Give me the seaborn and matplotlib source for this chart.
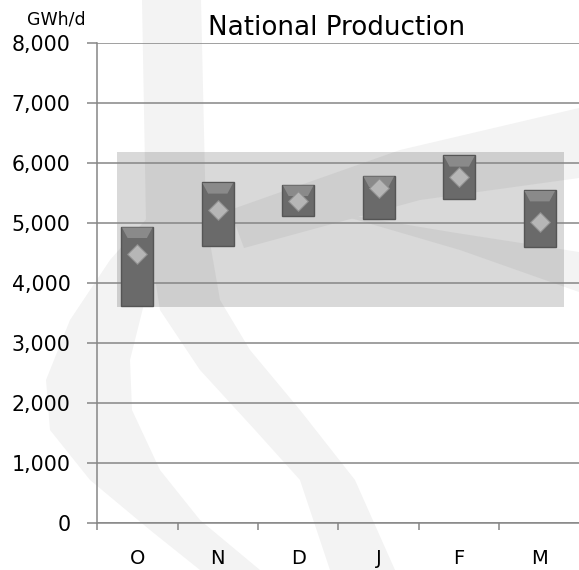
import numpy as np
import pandas as pd
import seaborn as sns
import matplotlib.pyplot as plt
from matplotlib.patches import Polygon
from matplotlib.ticker import FuncFormatter, FixedLocator

# monthly national production, GWh/d
months = ['O', 'N', 'D', 'J', 'F', 'M']
low = [3620, 4620, 5110, 5070, 5400, 4600]
high = [4940, 5680, 5640, 5790, 6130, 5550]
avg = [4480, 5220, 5370, 5590, 5770, 5020]
band_low = 3600
band_high = 6190

df = pd.DataFrame({'month': months, 'low': low, 'high': high, 'avg': avg})
df['span'] = df['high'] - df['low']

sns.set_style('white', {'text.color': 'black', 'xtick.color': 'black', 'ytick.color': 'black',
                        'xtick.bottom': True, 'ytick.left': True})
plt.rcParams['font.family'] = ['DejaVu Sans']

W, H = 579, 570
fig = plt.figure(figsize=(W / 100, H / 100), dpi=100)


def px(points):
    # watermark outline given in pixels from the top left corner
    return [(x / W, 1 - y / H) for x, y in points]


# faint logo watermark behind the chart
wm = '#f3f3f3'
shapes = [
    [(142, 0), (201, 0), (206, 220), (220, 300), (250, 350), (300, 410), (355, 480), (395, 570),
     (330, 570), (300, 480), (255, 430), (200, 370), (160, 310), (146, 220)],
    [(150, 215), (110, 260), (70, 320), (46, 380), (50, 430), (90, 480), (150, 530), (200, 570),
     (260, 570), (200, 520), (160, 470), (132, 410), (130, 360), (145, 300), (165, 260)],
    [(230, 210), (400, 150), (579, 108), (579, 178), (420, 200), (244, 248)],
    [(330, 212), (450, 232), (579, 252), (579, 292), (460, 250)],
]
for s in shapes:
    fig.patches.append(Polygon(px(s), closed=True, transform=fig.transFigure,
                               facecolor=wm, edgecolor='none', zorder=-5))

ax = fig.add_axes([97 / W, 47 / H, 483 / W, 480 / H])
ax.set_zorder(2)
ax.patch.set_alpha(0)

# overall range band
ax.axhspan(band_low, band_high, xmin=0.25 / 6, xmax=5.8 / 6, color='black', alpha=0.15,
           lw=0, zorder=1)

sns.barplot(data=df, x='month', y='span', bottom=df['low'], color='#6a6a6a', saturation=1,
            width=0.4, edgecolor='#555555', linewidth=1.0, zorder=3, ax=ax)

# lighter bevel at the top of each bar
for i, hi in enumerate(high):
    ax.fill([i - 0.19, i + 0.19, i + 0.12, i - 0.12], [hi - 15, hi - 15, hi - 190, hi - 190],
            color='#8a8a8a', lw=0, zorder=4)

sns.scatterplot(data=df, x='month', y='avg', marker='D', s=100, color='#b6b6b6',
                edgecolor='#8e8e8e', linewidth=0.8, zorder=5, ax=ax)

ax.set_xlim(-0.5, 5.5)
ax.set_ylim(0, 8000)
ax.set_yticks(range(0, 8001, 1000))
ax.yaxis.set_major_formatter(FuncFormatter(lambda v, p: f'{v:,.0f}'))
ax.grid(axis='y', color='#868686', lw=1.1, zorder=2)
ax.set_axisbelow(False)

ax.xaxis.set_major_locator(FixedLocator(np.arange(-0.5, 6, 1)))
ax.xaxis.set_minor_locator(FixedLocator(np.arange(0, 6, 1)))
ax.set_xticklabels([])
ax.set_xticklabels(months, minor=True)
ax.tick_params(axis='x', which='major', bottom=True, length=5, width=1.1, color='#868686',
               direction='out')
ax.tick_params(axis='x', which='minor', length=0, labelsize=14, pad=19, labelcolor='black')
ax.tick_params(axis='y', left=True, length=7, width=1.1, color='#868686', direction='out',
               labelsize=14.8, pad=12, labelcolor='black')
ax.set_xlabel('')
ax.set_ylabel('')

for side in ['top', 'right']:
    ax.spines[side].set_visible(False)
for side in ['left', 'bottom']:
    ax.spines[side].set_color('#868686')
    ax.spines[side].set_linewidth(1.1)

fig.text(336.5 / W, 1 - 35 / H, 'National Production', ha='center', va='baseline',
         fontsize=18.8, color='black')
fig.text(56.5 / W, 1 - 20 / H, 'GWh/d', ha='center', va='center', fontsize=12.5, color='black')

fig.savefig('out.png', dpi=100)
